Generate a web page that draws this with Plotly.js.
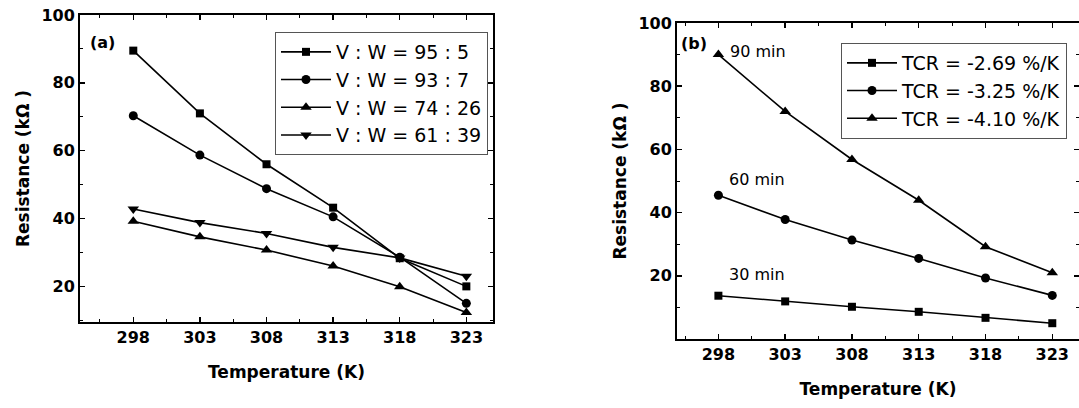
<!DOCTYPE html>
<html>
<head>
<meta charset="utf-8">
<script src="https://cdn.plot.ly/plotly-3.0.1.min.js"></script>
<style>html,body{margin:0;padding:0;background:#fff;}#chart{width:1079px;height:408px;}</style>
</head>
<body>
<div id="chart"></div>
<script>
// Shared temperature categories (K)
const temperatures = [298, 303, 308, 313, 318, 323];

// Panel (a): V : W ratios
const labelsA = ["V : W = 95 : 5", "V : W = 93 : 7", "V : W = 74 : 26", "V : W = 61 : 39"];
const vw95_5  = [89.5, 71.0, 56.0, 43.2, 28.3, 20.0];
const vw93_7  = [70.3, 58.7, 48.8, 40.5, 28.6, 15.0];
const vw74_26 = [39.2, 34.6, 30.7, 26.0, 19.9, 12.3];
const vw61_39 = [42.8, 38.8, 35.6, 31.5, 28.4, 23.0];

// Panel (b): deposition time series
const labelsB = ["TCR = -2.69 %/K", "TCR = -3.25 %/K", "TCR = -4.10 %/K"];
const min30 = [13.7, 11.9, 10.2, 8.6, 6.7, 5.0];
const min60 = [45.5, 37.8, 31.3, 25.5, 19.3, 13.8];
const min90 = [90.0, 72.0, 56.8, 43.9, 29.2, 21.0];

const xTickVals = [298, 303, 308, 313, 318, 323];
const yTickVals = [20, 40, 60, 80, 100];

const lineStyle = {color: '#000', width: 1.6};
function tr(y, name, symbol, size, xa, ya, leg) {
  return {
    x: temperatures, y: y, name: name, type: 'scatter', mode: 'lines+markers',
    line: lineStyle, marker: {symbol: symbol, size: size, color: '#000'},
    xaxis: xa, yaxis: ya, legend: leg
  };
}

const data = [
  tr(vw95_5,  labelsA[0], 'square', 8, 'x', 'y', 'legend'),
  tr(vw93_7,  labelsA[1], 'circle', 9, 'x', 'y', 'legend'),
  tr(vw74_26, labelsA[2], 'triangle-up', 10, 'x', 'y', 'legend'),
  tr(vw61_39, labelsA[3], 'triangle-down', 10, 'x', 'y', 'legend'),
  tr(min30, labelsB[0], 'square', 8, 'x2', 'y2', 'legend2'),
  tr(min60, labelsB[1], 'circle', 9, 'x2', 'y2', 'legend2'),
  tr(min90, labelsB[2], 'triangle-up', 10, 'x2', 'y2', 'legend2')
];

const tickFont = {family: 'DejaVu Sans', size: 16, color: '#000', weight: 'bold'};
const titleFont = {family: 'DejaVu Sans', size: 17, color: '#000', weight: 'bold'};

function xAxis(domain, range, anchor) {
  return {
    domain: domain, range: range, anchor: anchor,
    tickmode: 'array', tickvals: xTickVals, ticktext: xTickVals.map(String),
    ticks: 'inside', ticklen: 5, tickwidth: 1.5, tickcolor: '#000',
    minor: {dtick: 2.5, tick0: 298, ticks: 'inside', ticklen: 3, tickwidth: 1, tickcolor: '#000'},
    showline: true, linewidth: 2, linecolor: '#000', mirror: 'ticks',
    showgrid: false, zeroline: false, tickfont: tickFont,
    title: {text: 'Temperature (K)', font: titleFont, standoff: 20},
    automargin: false
  };
}
function yAxis(domain, range, anchor) {
  return {
    domain: domain, range: range, anchor: anchor,
    tickmode: 'array', tickvals: yTickVals, ticktext: yTickVals.map(String),
    ticks: 'inside', ticklen: 5, tickwidth: 1.5, tickcolor: '#000',
    minor: {dtick: 10, tick0: 0, ticks: 'inside', ticklen: 3, tickwidth: 1, tickcolor: '#000'},
    showline: true, linewidth: 2, linecolor: '#000', mirror: 'ticks',
    showgrid: false, zeroline: false, tickfont: tickFont,
    title: {text: 'Resistance (kΩ )', font: titleFont, standoff: 7},
    automargin: false
  };
}

const legendFont = {family: 'DejaVu Sans', size: 19, color: '#000'};

const layout = {
  width: 1079, height: 408,
  margin: {l: 0, r: 0, t: 0, b: 0},
  paper_bgcolor: '#fff', plot_bgcolor: '#fff',
  showlegend: true,
  xaxis: xAxis([80/1079, 493/1079], [294, 325], 'y'),
  yaxis: yAxis([1 - 322/408, 1 - 15/408], [9.5, 100], 'x'),
  xaxis2: xAxis([677/1079, 1], [294.9, 325], 'y2'),
  yaxis2: yAxis([1 - 339/408, 1 - 23/408], [0, 100], 'x2'),
  legend: {
    x: 488/1079, y: 1 - 32/408, xanchor: 'right', yanchor: 'top',
    bgcolor: '#fff', bordercolor: '#555', borderwidth: 1,
    font: legendFont, itemclick: false, itemwidth: 50, tracegroupgap: 0
  },
  legend2: {
    x: 1067/1079, y: 1 - 43/408, xanchor: 'right', yanchor: 'top',
    bgcolor: '#fff', bordercolor: '#555', borderwidth: 1,
    font: legendFont, itemclick: false, itemwidth: 50, tracegroupgap: 0
  },
  annotations: [
    {text: '(a)', x: 295.7, y: 92, xref: 'x', yref: 'y', showarrow: false,
     font: {family: 'DejaVu Sans', size: 16, color: '#000', weight: 'bold'}},
    {text: '(b)', x: 296.2, y: 93.5, xref: 'x2', yref: 'y2', showarrow: false,
     font: {family: 'DejaVu Sans', size: 16, color: '#000', weight: 'bold'}},
    {text: '90 min', x: 301.0, y: 91.0, xref: 'x2', yref: 'y2', showarrow: false,
     font: {family: 'DejaVu Sans', size: 16, color: '#000'}},
    {text: '60 min', x: 300.9, y: 50.5, xref: 'x2', yref: 'y2', showarrow: false,
     font: {family: 'DejaVu Sans', size: 16, color: '#000'}},
    {text: '30 min', x: 300.9, y: 20.5, xref: 'x2', yref: 'y2', showarrow: false,
     font: {family: 'DejaVu Sans', size: 16, color: '#000'}}
  ]
};

Plotly.newPlot('chart', data, layout, {displayModeBar: false, staticPlot: true});
</script>
</body>
</html>
